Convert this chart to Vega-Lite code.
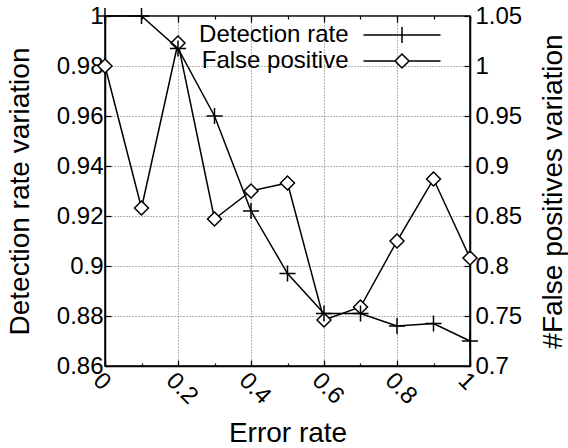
{
  "$schema": "https://vega.github.io/schema/vega-lite/v6.json",
  "width": 365,
  "height": 350,
  "autosize": "none",
  "padding": {"left": 105, "top": 16, "right": 98, "bottom": 82},
  "config": {
    "font": "Liberation Sans",
    "view": {"stroke": "black", "strokeWidth": 1.5},
    "axis": {
      "labelFont": "Liberation Sans",
      "titleFont": "Liberation Sans",
      "labelFontSize": 24,
      "titleFontSize": 28,
      "titleFontWeight": "normal",
      "labelColor": "black",
      "titleColor": "black",
      "domainColor": "black",
      "domainWidth": 1.5,
      "tickColor": "black",
      "tickWidth": 1.2,
      "tickSize": -6,
      "gridColor": "#666666",
      "gridDash": [1, 2],
      "gridWidth": 1
    }
  },
  "datasets": {
    "d": [
      {"x": 0, "series": "Detection rate", "value": 1.0},
      {"x": 0.1, "series": "Detection rate", "value": 1.0},
      {"x": 0.2, "series": "Detection rate", "value": 0.987},
      {"x": 0.3, "series": "Detection rate", "value": 0.96},
      {"x": 0.4, "series": "Detection rate", "value": 0.922},
      {"x": 0.5, "series": "Detection rate", "value": 0.897},
      {"x": 0.6, "series": "Detection rate", "value": 0.881},
      {"x": 0.7, "series": "Detection rate", "value": 0.881},
      {"x": 0.8, "series": "Detection rate", "value": 0.876},
      {"x": 0.9, "series": "Detection rate", "value": 0.877},
      {"x": 1.0, "series": "Detection rate", "value": 0.870},
      {"x": 0, "series": "False positive", "value": 1.0},
      {"x": 0.1, "series": "False positive", "value": 0.858},
      {"x": 0.2, "series": "False positive", "value": 1.023},
      {"x": 0.3, "series": "False positive", "value": 0.847},
      {"x": 0.4, "series": "False positive", "value": 0.875},
      {"x": 0.5, "series": "False positive", "value": 0.883},
      {"x": 0.6, "series": "False positive", "value": 0.746},
      {"x": 0.7, "series": "False positive", "value": 0.759},
      {"x": 0.8, "series": "False positive", "value": 0.825},
      {"x": 0.9, "series": "False positive", "value": 0.887},
      {"x": 1.0, "series": "False positive", "value": 0.808}
    ]
  },
  "data": {"name": "d"},
  "layer": [
    {
      "transform": [{"filter": "datum.series === 'Detection rate'"}],
      "mark": {"type": "point", "opacity": 0},
      "encoding": {
        "x": {"field": "x", "type": "quantitative", "scale": {"domain": [0, 1], "nice": false},
          "axis": {"orient": "top", "values": [0, 0.1, 0.2, 0.3, 0.4, 0.5, 0.6, 0.7, 0.8, 0.9, 1], "labels": false, "grid": false, "domain": false, "tickSize": -3, "title": null}}
      }
    },
    {
      "transform": [{"filter": "datum.series === 'Detection rate'"}],
      "mark": {"type": "point", "opacity": 0},
      "encoding": {
        "x": {"field": "x", "type": "quantitative", "scale": {"domain": [0, 1], "nice": false},
          "axis": {"orient": "top", "values": [0, 0.2, 0.4, 0.6, 0.8, 1], "labels": false, "grid": false, "domain": false, "tickSize": -6, "title": null}}
      }
    },
    {
      "transform": [{"filter": "datum.series === 'Detection rate'"}],
      "mark": {"type": "point", "opacity": 0},
      "encoding": {
        "x": {"field": "x", "type": "quantitative", "scale": {"domain": [0, 1], "nice": false},
          "axis": {"orient": "bottom", "values": [0, 0.1, 0.2, 0.3, 0.4, 0.5, 0.6, 0.7, 0.8, 0.9, 1], "labels": false, "grid": false, "domain": false, "tickSize": -3, "title": null}}
      }
    },
    {
      "transform": [{"filter": "datum.series === 'False positive'"}],
      "encoding": {
        "x": {"field": "x", "type": "quantitative", "scale": {"domain": [0, 1], "nice": false}, "axis": null},
        "y": {"field": "value", "type": "quantitative",
          "scale": {"domain": [0.7, 1.05], "nice": false, "zero": false},
          "axis": {"orient": "right", "values": [0.7, 0.75, 0.8, 0.85, 0.9, 0.95, 1, 1.05], "format": "~g", "grid": false, "labelPadding": 11, "title": "#False positives variation", "titleAngle": -90, "titleBaseline": "top", "titlePadding": 18}}
      },
      "layer": [
        {"mark": {"type": "line", "color": "black", "strokeWidth": 1.5}},
        {"mark": {"type": "point", "shape": "diamond", "filled": true, "fill": "white", "stroke": "black", "strokeWidth": 1.5, "size": 196, "opacity": 1}}
      ]
    },
    {
      "transform": [{"filter": "datum.series === 'Detection rate'"}],
      "encoding": {
        "x": {"field": "x", "type": "quantitative", "scale": {"domain": [0, 1], "nice": false},
          "axis": {"orient": "bottom", "values": [0, 0.2, 0.4, 0.6, 0.8, 1], "format": "~g", "grid": true, "labelAngle": 45, "labelAlign": "left", "labelBaseline": "top", "labelPadding": 8, "title": "Error rate", "titlePadding": 11}},
        "y": {"field": "value", "type": "quantitative",
          "scale": {"domain": [0.86, 1], "nice": false, "zero": false},
          "axis": {"orient": "left", "values": [0.86, 0.88, 0.9, 0.92, 0.94, 0.96, 0.98, 1], "format": "~g", "grid": true, "labelPadding": 8, "title": "Detection rate variation", "titlePadding": 22}}
      },
      "layer": [
        {"mark": {"type": "line", "color": "black", "strokeWidth": 1.5}},
        {"mark": {"type": "point", "shape": "M-1.15,0H1.15M0,-1.15V1.15", "filled": false, "stroke": "black", "strokeWidth": 1.5, "size": 196, "opacity": 1}}
      ]
    },
    {
      "transform": [{"filter": "false"}],
      "mark": {"type": "point", "filled": false, "color": "black", "strokeWidth": 1.5, "opacity": 1},
      "encoding": {
        "shape": {"field": "series", "type": "nominal",
          "scale": {"domain": ["Detection rate", "False positive"],
            "range": ["M-3.85,0H3.85M0,-0.8V0.8", "M-3.85,0H-0.7M0.7,0H3.85M0,-0.7L0.7,0L0,0.7L-0.7,0Z"]},
          "legend": {
            "orient": "none", "legendX": 285, "legendY": 7, "title": null, "padding": 0,
            "labelFont": "Liberation Sans", "labelFontSize": 24, "labelColor": "black",
            "labelAlign": "right", "labelOffset": -65.5, "rowPadding": 2,
            "symbolSize": 400, "symbolStrokeWidth": 1.5, "symbolStrokeColor": "black", "symbolOpacity": 1
          }}
      }
    }
  ],
  "resolve": {"scale": {"y": "independent"}, "axis": {"x": "independent"}}
}
